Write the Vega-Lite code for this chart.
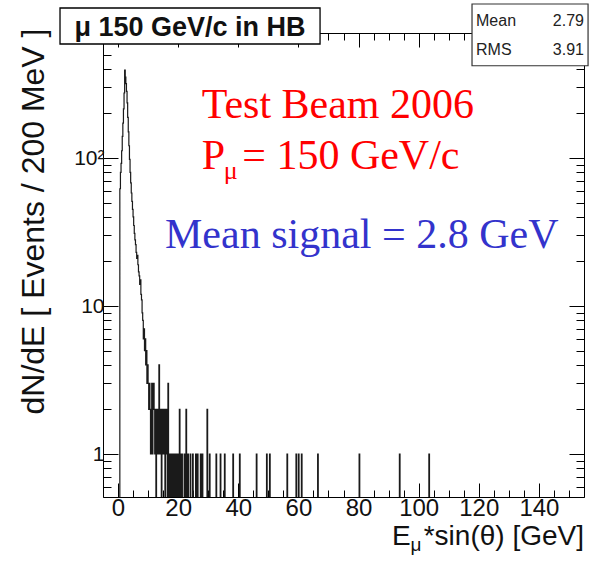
{
  "$schema": "https://vega.github.io/schema/vega-lite/v6.json",
  "width": 481,
  "height": 464,
  "autosize": {"type": "none"},
  "padding": {"left": 103, "top": 33, "right": 10, "bottom": 66},
  "background": "white",
  "config": {
    "view": {"stroke": "#000", "strokeWidth": 1},
    "font": "Liberation Sans",
    "axis": {"grid": false, "domain": false, "tickColor": "#000", "tickWidth": 1, "labelColor": "#111", "labelFont": "Liberation Sans"}
  },
  "resolve": {"axis": {"x": "independent", "y": "independent"}},
  "datasets": {
    "hist": [
      {"e": -5, "n": 0.1}, {"e": 0.6, "n": 62}, {"e": 0.8, "n": 80}, {"e": 1.0, "n": 92}, {"e": 1.2, "n": 112},
      {"e": 1.4, "n": 140}, {"e": 1.6, "n": 172}, {"e": 1.8, "n": 215}, {"e": 2.0, "n": 275}, {"e": 2.2, "n": 393},
      {"e": 2.4, "n": 352}, {"e": 2.6, "n": 318}, {"e": 2.8, "n": 282}, {"e": 3.0, "n": 236}, {"e": 3.2, "n": 188},
      {"e": 3.4, "n": 150}, {"e": 3.6, "n": 121}, {"e": 3.8, "n": 98}, {"e": 4.0, "n": 80}, {"e": 4.2, "n": 68},
      {"e": 4.4, "n": 58}, {"e": 4.6, "n": 51}, {"e": 4.8, "n": 45}, {"e": 5.0, "n": 40}, {"e": 5.2, "n": 35},
      {"e": 5.4, "n": 31}, {"e": 5.6, "n": 28}, {"e": 5.8, "n": 26}, {"e": 6.0, "n": 23}, {"e": 6.2, "n": 21},
      {"e": 6.4, "n": 22}, {"e": 6.6, "n": 19}, {"e": 6.8, "n": 17}, {"e": 7.0, "n": 16}, {"e": 7.2, "n": 14},
      {"e": 7.4, "n": 15}, {"e": 7.6, "n": 12}, {"e": 7.8, "n": 11}, {"e": 8.0, "n": 9}, {"e": 8.2, "n": 8},
      {"e": 8.4, "n": 6}, {"e": 8.6, "n": 7}, {"e": 8.8, "n": 5}, {"e": 9.0, "n": 6}, {"e": 9.2, "n": 4},
      {"e": 9.4, "n": 5}, {"e": 9.6, "n": 3}, {"e": 9.8, "n": 4}, {"e": 10.0, "n": 3}, {"e": 10.2, "n": 2},
      {"e": 10.4, "n": 3}, {"e": 10.6, "n": 2}, {"e": 10.8, "n": 1}, {"e": 11.0, "n": 2}, {"e": 11.2, "n": 3},
      {"e": 11.4, "n": 1}, {"e": 11.6, "n": 2}, {"e": 11.8, "n": 3}, {"e": 12.0, "n": 2}, {"e": 12.2, "n": 1},
      {"e": 12.4, "n": 2}, {"e": 12.6, "n": 0.1}, {"e": 12.8, "n": 2}, {"e": 13.0, "n": 1}, {"e": 13.2, "n": 2},
      {"e": 13.4, "n": 1}, {"e": 13.6, "n": 4}, {"e": 13.8, "n": 2}, {"e": 14.0, "n": 1}, {"e": 14.2, "n": 2},
      {"e": 14.4, "n": 0.1}, {"e": 14.6, "n": 2}, {"e": 14.8, "n": 1}, {"e": 15.0, "n": 2}, {"e": 15.2, "n": 1},
      {"e": 15.4, "n": 2}, {"e": 15.6, "n": 0.1}, {"e": 15.8, "n": 1}, {"e": 16.0, "n": 2}, {"e": 16.2, "n": 1},
      {"e": 16.4, "n": 0.1}, {"e": 16.6, "n": 3}, {"e": 16.8, "n": 1}, {"e": 17.0, "n": 0.1}, {"e": 17.2, "n": 1},
      {"e": 17.4, "n": 0.1}, {"e": 17.6, "n": 1}, {"e": 17.8, "n": 1}, {"e": 18.0, "n": 0.1}, {"e": 18.2, "n": 1},
      {"e": 18.4, "n": 0.1}, {"e": 18.6, "n": 1}, {"e": 18.8, "n": 0.1}, {"e": 19.0, "n": 1}, {"e": 19.2, "n": 0.1},
      {"e": 19.4, "n": 1}, {"e": 19.6, "n": 0.1}, {"e": 19.8, "n": 1}, {"e": 20.0, "n": 0.1}, {"e": 20.4, "n": 2},
      {"e": 20.6, "n": 0.1}, {"e": 20.8, "n": 1}, {"e": 21.0, "n": 0.1}, {"e": 21.2, "n": 1}, {"e": 21.4, "n": 0.1},
      {"e": 22.0, "n": 1}, {"e": 22.2, "n": 0.1}, {"e": 22.6, "n": 2}, {"e": 22.8, "n": 0.1}, {"e": 23.2, "n": 1},
      {"e": 23.4, "n": 0.1}, {"e": 24.0, "n": 1}, {"e": 24.2, "n": 0.1}, {"e": 24.8, "n": 1}, {"e": 25.0, "n": 0.1},
      {"e": 25.8, "n": 1}, {"e": 26.0, "n": 0.1}, {"e": 26.4, "n": 1}, {"e": 26.6, "n": 0.1}, {"e": 27.4, "n": 1},
      {"e": 27.6, "n": 0.1}, {"e": 28.0, "n": 1}, {"e": 28.2, "n": 0.1}, {"e": 29.6, "n": 2}, {"e": 29.8, "n": 0.1},
      {"e": 30.4, "n": 1}, {"e": 30.6, "n": 0.1}, {"e": 32.6, "n": 1}, {"e": 32.8, "n": 0.1}, {"e": 34.0, "n": 1},
      {"e": 34.2, "n": 0.1}, {"e": 35.4, "n": 1}, {"e": 35.6, "n": 0.1}, {"e": 38.2, "n": 1}, {"e": 38.4, "n": 0.1},
      {"e": 40.4, "n": 1}, {"e": 40.6, "n": 0.1}, {"e": 46.0, "n": 1}, {"e": 46.2, "n": 0.1}, {"e": 49.4, "n": 1},
      {"e": 49.6, "n": 0.1}, {"e": 50.4, "n": 1}, {"e": 50.6, "n": 0.1}, {"e": 56.2, "n": 1}, {"e": 56.4, "n": 0.1},
      {"e": 59.2, "n": 1}, {"e": 59.4, "n": 0.1}, {"e": 60.0, "n": 1}, {"e": 60.2, "n": 0.1}, {"e": 61.0, "n": 1},
      {"e": 61.2, "n": 0.1}, {"e": 66.4, "n": 1}, {"e": 66.6, "n": 0.1}, {"e": 80.2, "n": 1}, {"e": 80.4, "n": 0.1},
      {"e": 93.6, "n": 1}, {"e": 93.8, "n": 0.1}, {"e": 103.4, "n": 1}, {"e": 103.6, "n": 0.1}, {"e": 155, "n": 0.1}
    ]
  },
  "layer": [
    {
      "data": {"name": "hist"},
      "mark": {"type": "line", "interpolate": "step-after", "color": "#1a1a1a", "strokeWidth": 1.2, "clip": true},
      "encoding": {
        "x": {
          "field": "e", "type": "quantitative",
          "scale": {"domain": [-5, 155], "nice": false, "zero": false},
          "axis": {
            "orient": "bottom", "title": null,
            "values": [-5,0,5,10,15,20,25,30,35,40,45,50,55,60,65,70,75,80,85,90,95,100,105,110,115,120,125,130,135,140,145,150,155],
            "labelExpr": "(datum.value % 20 == 0 && datum.value >= 0 && datum.value <= 140) ? datum.label : ''",
            "tickSize": {"condition": {"test": "datum.value % 20 == 0", "value": -14}, "value": -7},
            "labelFontSize": 24, "labelPadding": 13, "labelFlush": false, "labelOverlap": false
          }
        },
        "y": {
          "field": "n", "type": "quantitative",
          "scale": {"type": "log", "domain": [0.5123, 699.3], "nice": false},
          "axis": {
            "orient": "left",
            "title": "dN/dE [ Events / 200 MeV ]",
            "titleFontSize": 32, "titleFontWeight": "normal", "titleColor": "#111", "titleFont": "Liberation Sans",
            "titleAngle": -90, "titleAlign": "right", "titleBaseline": "alphabetic",
            "titleX": -60, "titleY": -5,
            "values": [0.6,0.7,0.8,0.9,1,2,3,4,5,6,7,8,9,10,20,30,40,50,60,70,80,90,100,200,300,400,500,600],
            "labelExpr": "datum.value == 1 ? '1' : datum.value == 10 ? '10' : datum.value == 100 ? '10²' : ''",
            "tickSize": {"condition": {"test": "datum.value == 1 || datum.value == 10 || datum.value == 100", "value": -15}, "value": -8},
            "labelFontSize": 21, "labelPadding": 14, "labelFlush": false, "labelOverlap": false
          }
        }
      }
    },
    {
      "data": {"name": "hist"},
      "mark": {"type": "line", "interpolate": "step-after", "opacity": 0, "clip": true},
      "encoding": {
        "x": {
          "field": "e", "type": "quantitative",
          "axis": {
            "orient": "top", "title": null, "labels": false,
            "values": [-5,0,5,10,15,20,25,30,35,40,45,50,55,60,65,70,75,80,85,90,95,100,105,110,115,120,125,130,135,140,145,150,155],
            "tickSize": {"condition": {"test": "datum.value % 20 == 0", "value": -14}, "value": -7}
          }
        },
        "y": {
          "field": "n", "type": "quantitative",
          "axis": {
            "orient": "right", "title": null, "labels": false,
            "values": [0.6,0.7,0.8,0.9,1,2,3,4,5,6,7,8,9,10,20,30,40,50,60,70,80,90,100,200,300,400,500,600],
            "tickSize": {"condition": {"test": "datum.value == 1 || datum.value == 10 || datum.value == 100", "value": -15}, "value": -8}
          }
        }
      }
    },
    {
      "data": {"values": [{}]},
      "mark": {"type": "rect", "fill": "white", "stroke": "#000", "strokeWidth": 1.3},
      "encoding": {
        "x": {"datum": -19.3, "type": "quantitative", "axis": null},
        "x2": {"datum": 67.2},
        "y": {"datum": 1031.6, "type": "quantitative", "axis": null},
        "y2": {"datum": 589.3}
      }
    },
    {
      "data": {"values": [{}]},
      "mark": {"type": "text", "text": "μ 150 GeV/c in HB", "font": "Liberation Sans", "fontWeight": "bold", "fontSize": 27, "align": "center", "baseline": "alphabetic", "color": "#111"},
      "encoding": {
        "x": {"datum": 23.94, "type": "quantitative", "axis": null},
        "y": {"datum": 667.3, "type": "quantitative", "axis": null}
      }
    },
    {
      "data": {"values": [{}]},
      "mark": {"type": "rect", "fill": "white", "stroke": "#333", "strokeWidth": 1.2},
      "encoding": {
        "x": {"datum": 117.75, "type": "quantitative", "axis": null},
        "x2": {"datum": 156.35},
        "y": {"datum": 1098, "type": "quantitative", "axis": null},
        "y2": {"datum": 420}
      }
    },
    {
      "data": {"values": [{}]},
      "mark": {"type": "text", "text": "Mean", "fontSize": 16, "align": "left", "baseline": "alphabetic", "color": "#222"},
      "encoding": {
        "x": {"datum": 119.08, "type": "quantitative", "axis": null},
        "y": {"datum": 779.6, "type": "quantitative", "axis": null}
      }
    },
    {
      "data": {"values": [{}]},
      "mark": {"type": "text", "text": "2.79", "fontSize": 16, "align": "right", "baseline": "alphabetic", "color": "#222"},
      "encoding": {
        "x": {"datum": 155.0, "type": "quantitative", "axis": null},
        "y": {"datum": 779.6, "type": "quantitative", "axis": null}
      }
    },
    {
      "data": {"values": [{}]},
      "mark": {"type": "text", "text": "RMS", "fontSize": 16, "align": "left", "baseline": "alphabetic", "color": "#222"},
      "encoding": {
        "x": {"datum": 119.08, "type": "quantitative", "axis": null},
        "y": {"datum": 496.6, "type": "quantitative", "axis": null}
      }
    },
    {
      "data": {"values": [{}]},
      "mark": {"type": "text", "text": "3.91", "fontSize": 16, "align": "right", "baseline": "alphabetic", "color": "#222"},
      "encoding": {
        "x": {"datum": 155.0, "type": "quantitative", "axis": null},
        "y": {"datum": 496.6, "type": "quantitative", "axis": null}
      }
    },
    {
      "data": {"values": [{}]},
      "mark": {"type": "text", "text": "Test Beam 2006", "font": "Liberation Serif", "fontSize": 42, "align": "left", "baseline": "alphabetic", "color": "#ff0000"},
      "encoding": {
        "x": {"datum": 27.83, "type": "quantitative", "axis": null},
        "y": {"datum": 185.4, "type": "quantitative", "axis": null}
      }
    },
    {
      "data": {"values": [{}]},
      "mark": {"type": "text", "text": "P", "font": "Liberation Serif", "fontSize": 42, "align": "left", "baseline": "alphabetic", "color": "#ff0000"},
      "encoding": {
        "x": {"datum": 27.83, "type": "quantitative", "axis": null},
        "y": {"datum": 83.9, "type": "quantitative", "axis": null}
      }
    },
    {
      "data": {"values": [{}]},
      "mark": {"type": "text", "text": "μ", "font": "Liberation Serif", "fontSize": 26, "align": "left", "baseline": "alphabetic", "color": "#ff0000"},
      "encoding": {
        "x": {"datum": 35.2, "type": "quantitative", "axis": null},
        "y": {"datum": 72.0, "type": "quantitative", "axis": null}
      }
    },
    {
      "data": {"values": [{}]},
      "mark": {"type": "text", "text": "= 150 GeV/c", "font": "Liberation Serif", "fontSize": 42, "align": "left", "baseline": "alphabetic", "color": "#ff0000"},
      "encoding": {
        "x": {"datum": 41.3, "type": "quantitative", "axis": null},
        "y": {"datum": 83.9, "type": "quantitative", "axis": null}
      }
    },
    {
      "data": {"values": [{}]},
      "mark": {"type": "text", "text": "Mean signal = 2.8 GeV", "font": "Liberation Serif", "fontSize": 42, "align": "left", "baseline": "alphabetic", "color": "#3333cc"},
      "encoding": {
        "x": {"datum": 15.63, "type": "quantitative", "axis": null},
        "y": {"datum": 24.8, "type": "quantitative", "axis": null}
      }
    },
    {
      "data": {"values": [{}]},
      "mark": {"type": "text", "text": "E", "fontSize": 28, "align": "left", "baseline": "alphabetic", "color": "#111"},
      "encoding": {
        "x": {"datum": 91.1, "type": "quantitative", "axis": null},
        "y": {"datum": 0.2420, "type": "quantitative", "axis": null}
      }
    },
    {
      "data": {"values": [{}]},
      "mark": {"type": "text", "text": "μ", "fontSize": 19, "align": "left", "baseline": "alphabetic", "color": "#111"},
      "encoding": {
        "x": {"datum": 97.3, "type": "quantitative", "axis": null},
        "y": {"datum": 0.2210, "type": "quantitative", "axis": null}
      }
    },
    {
      "data": {"values": [{}]},
      "mark": {"type": "text", "text": "*sin(θ) [GeV]", "fontSize": 28, "align": "right", "baseline": "alphabetic", "color": "#111"},
      "encoding": {
        "x": {"datum": 155.0, "type": "quantitative", "axis": null},
        "y": {"datum": 0.2420, "type": "quantitative", "axis": null}
      }
    }
  ]
}
